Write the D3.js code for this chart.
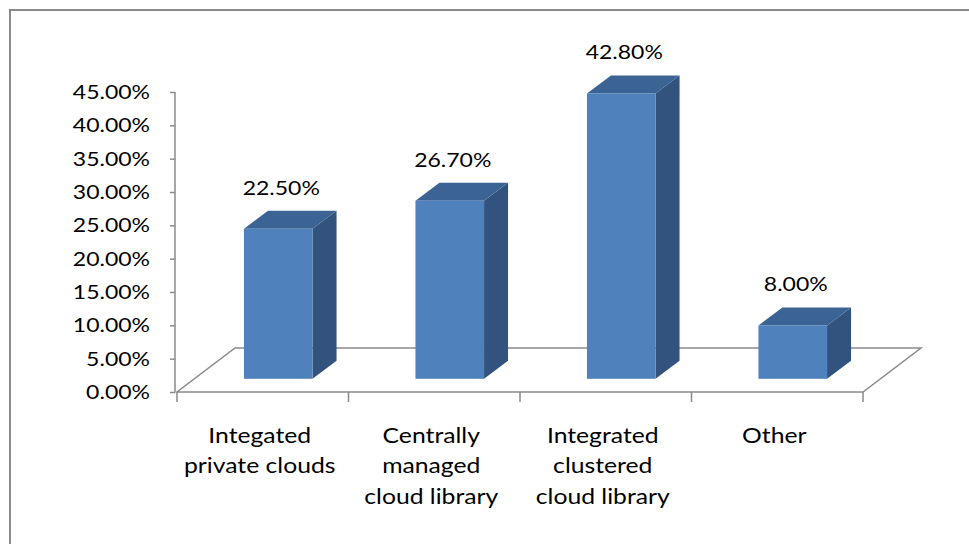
<!DOCTYPE html>
<html>
<head>
<meta charset="utf-8">
<script src="https://cdn.jsdelivr.net/npm/d3@7/dist/d3.min.js"></script>
<style>
  html, body { margin: 0; padding: 0; background: #fff; }
  svg { display: block; }
  text { font-family: Lato, "Open Sans", sans-serif; fill: #000; }
</style>
</head>
<body>
<svg id="chart" width="969" height="544"></svg>
<script>
// Survey shares by cloud library model
const categories = [
  ["Integated", "private clouds"],
  ["Centrally", "managed", "cloud library"],
  ["Integrated", "clustered", "cloud library"],
  ["Other"]
];
const values = [0.225, 0.267, 0.428, 0.08];
const valueLabels = ["22.50%", "26.70%", "42.80%", "8.00%"];
const yTicks = [0, 0.05, 0.10, 0.15, 0.20, 0.25, 0.30, 0.35, 0.40, 0.45];

(function () {
const svg = d3.select("#chart");
const fontSize = 20;
const catFontSize = 21.5;
const stretch = 1.15;            // horizontal stretch of the label glyphs

// plot geometry
const plotLeft = 177, plotRight = 863, floorY = 392, plotTop = 92;
const depth = { dx: 58, dy: -44 };       // floor depth in oblique projection
const barFrontAt = 0.3;                  // bars start 30% into the floor depth
const barDepth = { dx: 24, dy: -18 };

const x = d3.scaleBand().domain(d3.range(categories.length)).range([plotLeft, plotRight]).padding(0);
const y = d3.scaleLinear().domain([0, 0.45]).range([floorY, plotTop]);
const pct = d3.format(".2%");

// chart frame
svg.append("rect")
  .attr("x", 10).attr("y", 10).attr("width", 1000).attr("height", 600)
  .attr("fill", "none").attr("stroke", "#8a8a8a").attr("stroke-width", 2);

// floor
const floorPts = [
  [plotLeft, floorY],
  [plotRight, floorY],
  [plotRight + depth.dx, floorY + depth.dy],
  [plotLeft + depth.dx, floorY + depth.dy]
];
svg.append("path")
  .attr("d", d3.line()(floorPts) + "Z")
  .attr("fill", "none").attr("stroke", "#8a8a8a").attr("stroke-width", 1.5);

// value axis
const yAxis = d3.axisLeft(y).tickValues(yTicks).tickSize(5).tickPadding(0).tickFormat(() => "");
const yg = svg.append("g").attr("transform", "translate(175,0)").call(yAxis);
yg.select(".domain").attr("stroke", "#8a8a8a").attr("stroke-width", 1.5).attr("d", `M0,${y(0.45)}V${y(0)}`);
yg.selectAll(".tick line").attr("stroke", "#8a8a8a").attr("stroke-width", 1.5);

svg.append("g").selectAll("text").data(yTicks).join("text")
  .attr("text-anchor", "end")
  .attr("font-size", fontSize)
  .attr("transform", d => `translate(150,${y(d) + 7}) scale(${stretch},1)`)
  .text(d => pct(d));

// category axis ticks
const edges = d3.range(categories.length + 1).map(i => plotLeft + i * x.bandwidth());
svg.append("g").selectAll("line").data(edges).join("line")
  .attr("x1", d => d).attr("x2", d => d)
  .attr("y1", floorY).attr("y2", floorY + 10)
  .attr("stroke", "#8a8a8a").attr("stroke-width", 1.5);

// bars
const bw = x.bandwidth() * 0.4;
const baseX = i => x(i) + x.bandwidth() / 2 + 15.5 - bw / 2;
const baseY = floorY + barFrontAt * depth.dy;
const bars = svg.append("g").selectAll("g").data(values.map((v, i) => ({ v, i }))).join("g");

bars.each(function (d) {
  const g = d3.select(this);
  const x0 = baseX(d.i), x1 = x0 + bw;
  const h = y(0) - y(d.v);
  const yt = baseY - h;
  const line = d3.line();
  // right side face
  g.append("path")
    .attr("d", line([[x1, baseY], [x1 + barDepth.dx, baseY + barDepth.dy], [x1 + barDepth.dx, yt + barDepth.dy], [x1, yt]]) + "Z")
    .attr("fill", "#31537d");
  // top face
  g.append("path")
    .attr("d", line([[x0, yt], [x1, yt], [x1 + barDepth.dx, yt + barDepth.dy], [x0 + barDepth.dx, yt + barDepth.dy]]) + "Z")
    .attr("fill", "#3b6494");
  // front face
  g.append("rect")
    .attr("x", x0).attr("y", yt).attr("width", bw).attr("height", h)
    .attr("fill", "#4f81bd");
});

// value labels
svg.append("g").selectAll("text").data(values).join("text")
  .attr("text-anchor", "middle")
  .attr("font-size", fontSize)
  .attr("transform", (d, i) => `translate(${baseX(i) + bw / 2 + 3},${baseY - (y(0) - y(d)) + barDepth.dy - 16}) scale(${stretch},1)`)
  .text((d, i) => valueLabels[i]);

// category labels
const cat = svg.append("g").selectAll("text").data(categories).join("text")
  .attr("text-anchor", "middle")
  .attr("font-size", catFontSize)
  .attr("transform", (d, i) => `translate(${x(i) + x.bandwidth() / 2 - 3},443) scale(${stretch},1)`);
cat.selectAll("tspan").data(d => d).join("tspan")
  .attr("x", 0)
  .attr("y", (d, j) => j * 30.5)
  .text(d => d);
})();
</script>
</body>
</html>
